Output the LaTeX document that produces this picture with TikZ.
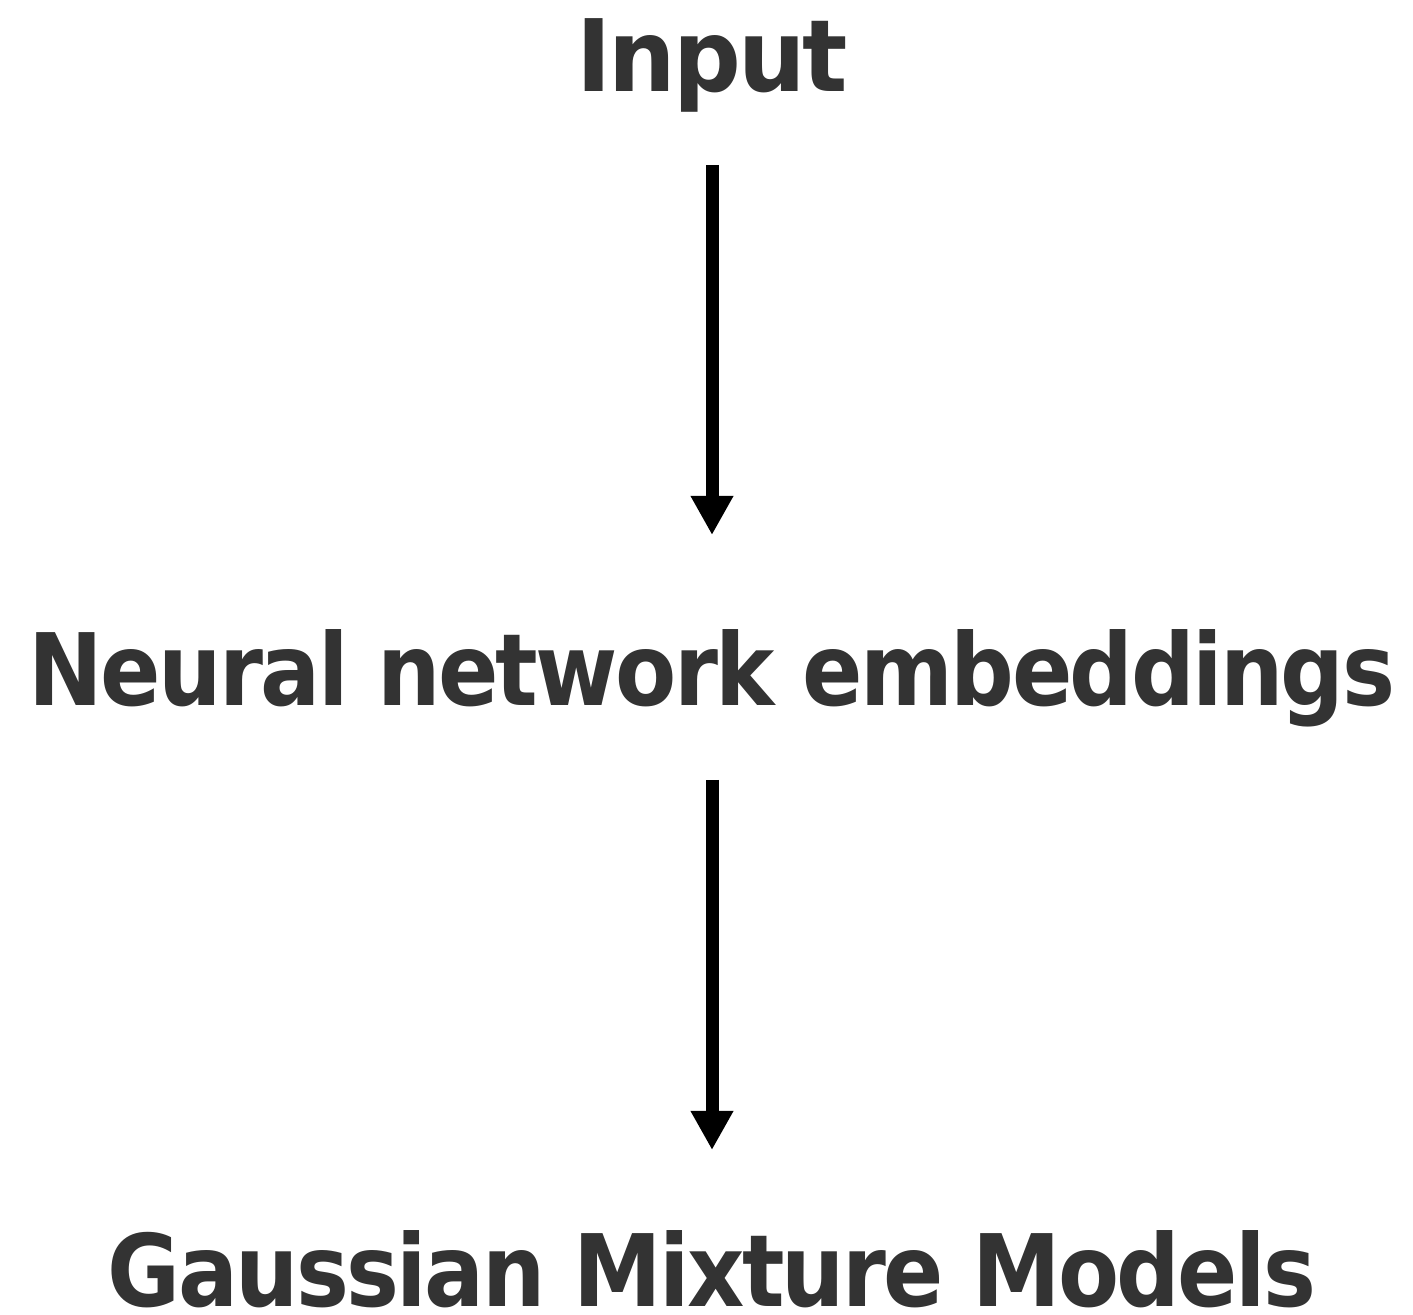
\documentclass[tikz,border=0pt]{standalone}
\usepackage{fontspec}
\setmainfont{DejaVu Sans}
\newfontfamily\headfont[LetterSpace=-3]{DejaVu Sans}
\usetikzlibrary{arrows.meta}
\definecolor{textgray}{HTML}{333333}
% bold heading text set tight and brought to a given width, natural height kept
\newcommand{\fitlabel}[2]{\resizebox{#1}{\height}{#2}}
\tikzset{
  label/.style={font=\headfont\bfseries\fontsize{100}{110}\selectfont, text=textgray, inner sep=0pt, anchor=base},
  flow/.style={line width=13pt, -{Triangle[width=40pt,length=39pt]}, black}
}
\begin{document}
\begin{tikzpicture}[x=1pt,y=1pt]
  \useasboundingbox (0,0) rectangle (1413,1314);
  \node[label] (in) at (712,1222) {\fitlabel{272pt}{Input}};
  \node[label] (nn) at (712,608) {\fitlabel{1366pt}{Neural network embeddings}};
  \node[label] (gm) at (712,8) {\fitlabel{1208pt}{Gaussian Mixture Models}};
  \draw[flow, shorten <=73pt, shorten >=171pt] (in.base) -- (nn.base);
  \draw[flow, shorten <=74pt, shorten >=156pt] (nn.base) -- (gm.base);
\end{tikzpicture}
\end{document}
